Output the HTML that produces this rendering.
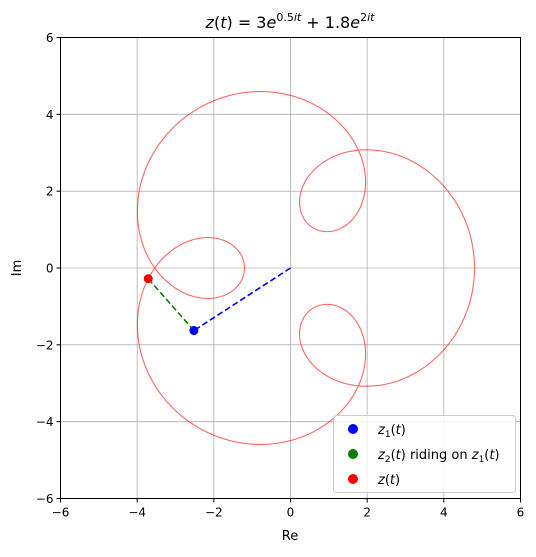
<!DOCTYPE html>
<html><head><meta charset="utf-8"><style>
html,body{margin:0;padding:0;background:#fff;}
text{font-family:"DejaVu Sans","Liberation Sans",sans-serif;}
</style></head><body>
<svg id="chart" width="536" height="552" viewBox="0 0 536 552">
<rect width="536" height="552" fill="#fff"/>
<g id="grid"></g>
<g id="plot"></g>
<rect x="60.5" y="37.5" width="460" height="461" fill="none" stroke="#000" stroke-width="1"/>
<g id="ticks"></g>
<text x="290" y="28" text-anchor="middle" font-size="16"><tspan font-style="italic">z</tspan>(<tspan font-style="italic">t</tspan>) = 3<tspan font-style="italic">e</tspan><tspan font-size="11" dy="-7">0.5<tspan font-style="italic">it</tspan></tspan><tspan dy="7"> + 1.8</tspan><tspan font-style="italic">e</tspan><tspan font-size="11" dy="-7">2<tspan font-style="italic">it</tspan></tspan></text>
<text x="290" y="540" text-anchor="middle" font-size="13">Re</text>
<text x="21" y="268" text-anchor="middle" font-size="13" transform="rotate(-90 21 268)">Im</text>
<g>
<rect x="333.5" y="415.5" width="182" height="77" rx="3" fill="#fff" fill-opacity="0.8" stroke="#ccc"/>
<circle cx="353" cy="429" r="5" fill="#0000ff"/>
<text x="378" y="434" font-size="13"><tspan font-style="italic">z</tspan><tspan font-size="9" dy="3">1</tspan><tspan dy="-3">(</tspan><tspan font-style="italic">t</tspan>)</text>
<circle cx="353" cy="454" r="5" fill="#008000"/>
<text x="378" y="459" font-size="13"><tspan font-style="italic">z</tspan><tspan font-size="9" dy="3">2</tspan><tspan dy="-3">(</tspan><tspan font-style="italic">t</tspan>) riding on <tspan font-style="italic">z</tspan><tspan font-size="9" dy="3">1</tspan><tspan dy="-3">(</tspan><tspan font-style="italic">t</tspan>)</text>
<circle cx="353" cy="479" r="5" fill="#ff0000"/>
<text x="378" y="484" font-size="13"><tspan font-style="italic">z</tspan>(<tspan font-style="italic">t</tspan>)</text>
</g>
</svg>
<script>
const tickValues = [-6,-4,-2,0,2,4,6];
const amplitudes = [3, 1.8];
const frequencies = [0.5, 2];
const tNow = [7.43];
const tRange = [0, 4*Math.PI];

const NS="http://www.w3.org/2000/svg";
const X0=60.5,X1=520.5,Y0=498.5,Y1=37.5;
const sx=v=>X0+(v+6)/12*(X1-X0);
const sy=v=>Y0-(v+6)/12*(Y0-Y1);
function mk(tag,attrs,parent){const e=document.createElementNS(NS,tag);for(const k in attrs)e.setAttribute(k,attrs[k]);parent.appendChild(e);return e;}
const grid=document.getElementById('grid'),plot=document.getElementById('plot'),ticks=document.getElementById('ticks');
tickValues.forEach(v=>{
  let g=mk('line',{x1:sx(v),x2:sx(v),y1:Y1,y2:Y0,stroke:'#b0b0b0','stroke-width':0.8},grid);
  
  
  g=mk('line',{x1:X0,x2:X1,y1:sy(v),y2:sy(v),stroke:'#b0b0b0','stroke-width':0.8},grid);
  
  
  mk('line',{x1:sx(v),x2:sx(v),y1:Y0,y2:Y0+4,stroke:'#000'},ticks);
  mk('line',{x1:X0,x2:X0-4,y1:sy(v),y2:sy(v),stroke:'#000'},ticks);
  const lab=v<0?'\u2212'+(-v):''+v;
  let t=mk('text',{x:sx(v),y:Y0+18,'text-anchor':'middle','font-size':12},ticks);t.textContent=lab;
  
  
  t=mk('text',{x:X0-7,y:sy(v)+4.5,'text-anchor':'end','font-size':12},ticks);t.textContent=lab;
  
  
});
function term(k,t){return [amplitudes[k]*Math.cos(frequencies[k]*t),amplitudes[k]*Math.sin(frequencies[k]*t)];}
let d='';const N=1500;
for(let i=0;i<=N;i++){const t=tRange[0]+(tRange[1]-tRange[0])*i/N;const a=term(0,t),b=term(1,t);
  d+=(i?'L':'M')+sx(a[0]+b[0]).toFixed(2)+','+sy(a[1]+b[1]).toFixed(2);}
const path=mk('path',{d:d,fill:'none',stroke:'#ff0000','stroke-opacity':0.6,'stroke-width':1.1},plot);


const z1=term(0,tNow[0]),z2=term(1,tNow[0]),z=[z1[0]+z2[0],z1[1]+z2[1]];
let l=mk('line',{x1:sx(0),y1:sy(0),x2:sx(z1[0]),y2:sy(z1[1]),stroke:'#0000ff','stroke-width':1.6,'stroke-dasharray':'6,3'},plot);


l=mk('line',{x1:sx(z1[0]),y1:sy(z1[1]),x2:sx(z[0]),y2:sy(z[1]),stroke:'#008000','stroke-width':1.6,'stroke-dasharray':'6,3'},plot);


let c=mk('circle',{cx:sx(z1[0]),cy:sy(z1[1]),r:4.5,fill:'#0000ff'},plot);


c=mk('circle',{cx:sx(z[0]),cy:sy(z[1]),r:4.5,fill:'#ff0000'},plot);


</script>
</body></html>
